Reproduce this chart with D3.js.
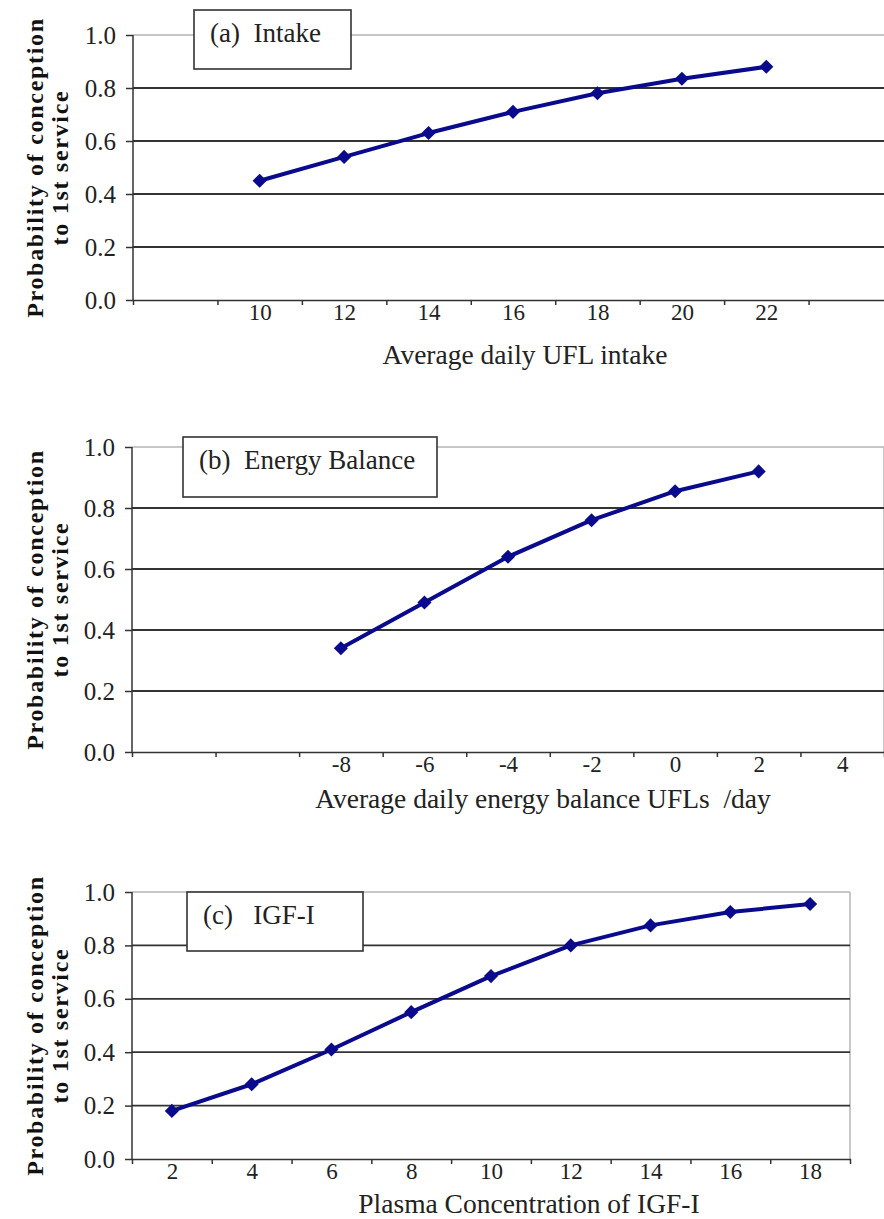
<!DOCTYPE html>
<html>
<head>
<meta charset="utf-8">
<title>Probability of conception to 1st service</title>
<script src="https://cdn.jsdelivr.net/npm/d3@7"></script>
<style>
  body { margin: 0; background: #fff; }
  svg { display: block; }
</style>
</head>
<body>
<div id="chart"></div>
<script>
// values
const yTicks = [0, 0.2, 0.4, 0.6, 0.8, 1.0];

const intakeX = [10, 12, 14, 16, 18, 20, 22];
const intakeY = [0.45, 0.54, 0.63, 0.71, 0.78, 0.835, 0.88];

const balanceX = [-8, -6, -4, -2, 0, 2];
const balanceY = [0.34, 0.49, 0.64, 0.76, 0.855, 0.92];
const balanceLabels = [-8, -6, -4, -2, 0, 2, 4];

const igfX = [2, 4, 6, 8, 10, 12, 14, 16, 18];
const igfY = [0.18, 0.28, 0.41, 0.55, 0.685, 0.80, 0.875, 0.925, 0.955];

const yTitle = ["Probability of conception", "to 1st service"];

const width = 884, height = 1219;
const serif = "'Liberation Serif', 'Times New Roman', serif";

const panels = [
    { label: "(a)  Intake", xTitle: "Average daily UFL intake",
      xs: intakeX, ys: intakeY, xLabels: intakeX, domain: [7, 25],
      left: 133, right: 893, top: 35, bottom: 300, rightBorder: false,
      box: [194, 10, 157, 59], titleY: 364, titleX: 525 },
    { label: "(b)  Energy Balance", xTitle: "Average daily energy balance UFLs  /day",
      xs: balanceX, ys: balanceY, xLabels: balanceLabels, domain: [-13, 5],
      left: 132, right: 884, top: 447, bottom: 752, rightBorder: true,
      box: [183, 437, 254, 60], titleY: 808, titleX: 543 },
    { label: "(c)   IGF-I", xTitle: "Plasma Concentration of IGF-I",
      xs: igfX, ys: igfY, xLabels: igfX, domain: [1, 19],
      left: 132, right: 850, top: 892, bottom: 1159, rightBorder: true,
      box: [187, 892, 176, 59], titleY: 1213, titleX: 529 }
];

const svg = d3.select("#chart").append("svg")
    .attr("width", width)
    .attr("height", height)
    .style("font-family", serif);

panels.forEach(function(p) {
    const g = svg.append("g");

    const x = d3.scaleLinear().domain(p.domain).range([p.left, p.right]);
    const y = d3.scaleLinear().domain([0, 1]).range([p.bottom, p.top]);

    // plot border (light) and gridlines (dark)
    g.append("line")
        .attr("x1", p.left).attr("x2", p.right)
        .attr("y1", y(1)).attr("y2", y(1))
        .attr("stroke", "#b5b5b5").attr("stroke-width", 1.5);
    if (p.rightBorder) {
        g.append("line")
            .attr("x1", p.right).attr("x2", p.right)
            .attr("y1", y(1)).attr("y2", y(0))
            .attr("stroke", "#b5b5b5").attr("stroke-width", 1.5);
    }
    g.append("g")
        .selectAll("line")
        .data(yTicks.filter(v => v > 0 && v < 1))
        .join("line")
        .attr("x1", p.left).attr("x2", p.right)
        .attr("y1", d => y(d)).attr("y2", d => y(d))
        .attr("stroke", "#333").attr("stroke-width", 1.8);

    // y axis
    const yAxis = g.append("g")
        .attr("transform", `translate(${p.left},0)`)
        .call(d3.axisLeft(y).tickValues(yTicks).tickFormat(d3.format(".1f")).tickSize(7).tickPadding(10));
    yAxis.selectAll("line, path").attr("stroke", "#333").attr("stroke-width", 1.5);
    yAxis.select(".domain").attr("d", `M0,${y(0)}V${y(1)}`);
    yAxis.selectAll("text")
        .attr("fill", "#222")
        .style("font-family", serif)
        .style("font-size", "25px");

    // x axis: tick marks between categories, labels at the categories
    const marks = d3.range(p.domain[0], p.domain[1] + 0.1, 2);
    const xAxis = g.append("g")
        .attr("transform", `translate(0,${p.bottom})`)
        .call(d3.axisBottom(x).tickValues(marks).tickFormat("").tickSize(5).tickSizeOuter(0));
    xAxis.selectAll("line, path").attr("stroke", "#333").attr("stroke-width", 1.5);

    const xLab = g.append("g")
        .attr("transform", `translate(0,${p.bottom})`)
        .call(d3.axisBottom(x).tickValues(p.xLabels).tickFormat(d => String(d)).tickSize(0).tickPadding(4));
    xLab.select(".domain").remove();
    xLab.selectAll("text")
        .attr("fill", "#222")
        .style("font-family", serif)
        .style("font-size", "23px");

    // series
    const pts = p.xs.map((v, i) => [v, p.ys[i]]);
    g.append("path")
        .datum(pts)
        .attr("fill", "none")
        .attr("stroke", "#0a0a8c")
        .attr("stroke-width", 4)
        .attr("stroke-linejoin", "round")
        .attr("d", d3.line().x(d => x(d[0])).y(d => y(d[1])));
    g.append("g")
        .selectAll("path")
        .data(pts)
        .join("path")
        .attr("transform", d => `translate(${x(d[0])},${y(d[1])}) rotate(45)`)
        .attr("d", d3.symbol(d3.symbolSquare, 100))
        .attr("fill", "#0a0a8c");

    // label box
    g.append("rect")
        .attr("x", p.box[0]).attr("y", p.box[1])
        .attr("width", p.box[2]).attr("height", p.box[3])
        .attr("fill", "#fff")
        .attr("stroke", "#333").attr("stroke-width", 1.6);
    g.append("text")
        .attr("x", p.box[0] + 16)
        .attr("y", p.box[1] + 32)
        .attr("fill", "#222")
        .style("font-size", "27px")
        .style("white-space", "pre")
        .text(p.label);

    // x title
    g.append("text")
        .attr("x", p.titleX)
        .attr("y", p.titleY)
        .attr("text-anchor", "middle")
        .attr("fill", "#222")
        .style("font-size", "27.5px")
        .style("white-space", "pre")
        .text(p.xTitle);

    // y title
    const cy = (p.top + p.bottom) / 2;
    g.append("text")
        .attr("transform", `translate(43,${cy}) rotate(-90)`)
        .attr("text-anchor", "middle")
        .attr("fill", "#111")
        .style("font-size", "24px")
        .style("font-weight", "bold")
        .style("letter-spacing", "1.7px")
        .text(yTitle[0]);
    g.append("text")
        .attr("transform", `translate(68,${cy}) rotate(-90)`)
        .attr("text-anchor", "middle")
        .attr("fill", "#111")
        .style("font-size", "24px")
        .style("font-weight", "bold")
        .style("letter-spacing", "1.7px")
        .text(yTitle[1]);
});
</script>
</body>
</html>
